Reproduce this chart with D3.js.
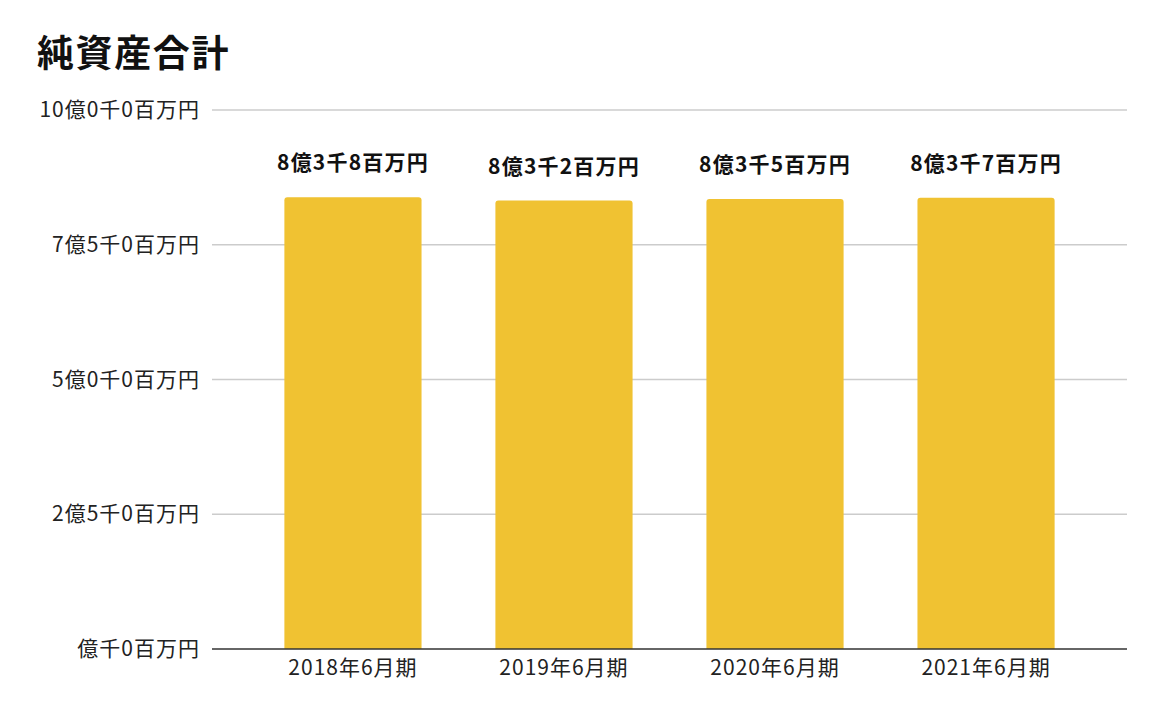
<!DOCTYPE html>
<html><head><meta charset="utf-8">
<script src="https://cdn.jsdelivr.net/npm/d3@7/dist/d3.min.js"></script>
<style>
body{margin:0;background:#fff;font-family:"Noto Sans CJK JP","Noto Sans",sans-serif;}
</style></head>
<body>
<svg id="chart" width="1164" height="720"></svg>
<script>
const title = "純資産合計";
const categories = ["2018年6月期","2019年6月期","2020年6月期","2021年6月期"];
const values = [838, 832, 835, 837]; // 百万円
const valueLabels = ["8億3千8百万円","8億3千2百万円","8億3千5百万円","8億3千7百万円"];
const tickValues = [0, 250, 500, 750, 1000];
const tickLabels = ["億千0百万円","2億5千0百万円","5億0千0百万円","7億5千0百万円","10億0千0百万円"];

(function(){
const svg = d3.select("#chart");
const mLeft = 212, mRight = 1127, mTop = 110, mBottom = 649;
const ff = '"Noto Sans CJK JP",sans-serif';

const x = d3.scaleBand().domain(categories).range([mLeft, mRight]).paddingInner(0.35).paddingOuter(0.343);
const y = d3.scaleLinear().domain([0, 1000]).range([mBottom, mTop]);

svg.append("text").attr("x", 37).attr("y", 67)
  .attr("font-size", 37).attr("font-weight", "bold").attr("letter-spacing", 1.6)
  .attr("font-family", ff).attr("fill", "#111").text(title);

// gridlines
svg.append("g").selectAll("line").data(tickValues.filter(d => d > 0)).join("line")
  .attr("x1", mLeft).attr("x2", mRight)
  .attr("y1", d => y(d)).attr("y2", d => y(d))
  .attr("stroke", "#cccccc").attr("stroke-width", 1.3);

// y axis labels
const yAxis = d3.axisLeft(y).tickValues(tickValues).tickSize(0).tickPadding(12)
  .tickFormat((d, i) => tickLabels[i]);
const gy = svg.append("g").attr("transform", `translate(${mLeft},0)`).call(yAxis);
gy.select(".domain").remove();
gy.selectAll("text").attr("font-size", 21).attr("letter-spacing", 1).attr("fill", "#222")
  .attr("font-family", ff);

// bars with rounded top
const r = 3;
svg.append("g").selectAll("path").data(values).join("path")
  .attr("fill", "#F0C232")
  .attr("d", (d, i) => {
    const x0 = x(categories[i]), w = x.bandwidth(), y0 = y(d), y1 = y(0);
    return `M${x0},${y1}V${y0 + r}Q${x0},${y0} ${x0 + r},${y0}H${x0 + w - r}Q${x0 + w},${y0} ${x0 + w},${y0 + r}V${y1}Z`;
  });

// value labels
svg.append("g").selectAll("text").data(values).join("text")
  .attr("x", (d, i) => x(categories[i]) + x.bandwidth() / 2)
  .attr("y", d => y(d) - 27)
  .attr("text-anchor", "middle").attr("font-size", 21).attr("letter-spacing", 1.2)
  .attr("font-weight", "bold").attr("fill", "#111").attr("font-family", ff)
  .text((d, i) => valueLabels[i]);

// x axis
const xAxis = d3.axisBottom(x).tickSize(0).tickPadding(11);
const gx = svg.append("g").attr("transform", `translate(0,${mBottom})`).call(xAxis);
gx.select(".domain").attr("stroke", "#333").attr("stroke-width", 1.5).attr("d", `M${mLeft},0H${mRight}`);
gx.selectAll("text").attr("font-size", 21).attr("letter-spacing", 1).attr("fill", "#222")
  .attr("font-family", ff);
})();
</script>
</body></html>
